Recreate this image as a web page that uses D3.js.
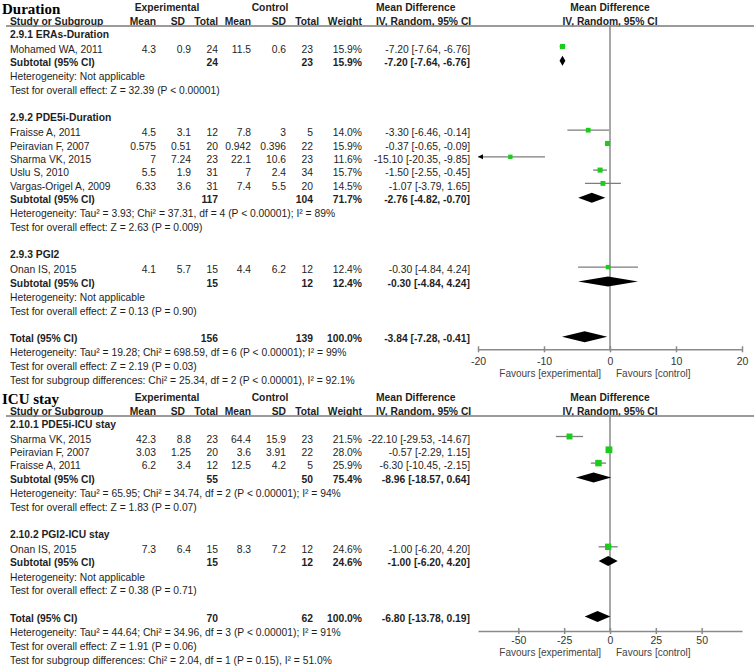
<!DOCTYPE html>
<html>
<head>
<meta charset="utf-8">
<script src="https://cdn.jsdelivr.net/npm/d3@7"></script>
<style>
  body { margin: 0; background: #fff; }
</style>
</head>
<body>
<svg id="chart" width="754" height="667"></svg>
<script>
// --- Données : Duration ---
const durationGroups = [
  { id: "2.9.1", label: "2.9.1 ERAs-Duration", nE: 24, nC: 23, weight: 15.9, md: -7.20, lo: -7.64, hi: -6.76,
    het: "Heterogeneity: Not applicable", test: "Test for overall effect: Z = 32.39 (P < 0.00001)" },
  { id: "2.9.2", label: "2.9.2 PDE5i-Duration", nE: 117, nC: 104, weight: 71.7, md: -2.76, lo: -4.82, hi: -0.70,
    het: "Heterogeneity: Tau² = 3.93; Chi² = 37.31, df = 4 (P < 0.00001); I² = 89%", test: "Test for overall effect: Z = 2.63 (P = 0.009)" },
  { id: "2.9.3", label: "2.9.3 PGI2", nE: 15, nC: 12, weight: 12.4, md: -0.30, lo: -4.84, hi: 4.24,
    het: "Heterogeneity: Not applicable", test: "Test for overall effect: Z = 0.13 (P = 0.90)" }
];
const durationStudies = [
  { group: "2.9.1", name: "Mohamed WA, 2011", mE: 4.3, sdE: 0.9, nE: 24, mC: 11.5, sdC: 0.6, nC: 23, weight: 15.9, md: -7.20, lo: -7.64, hi: -6.76 },
  { group: "2.9.2", name: "Fraisse A, 2011", mE: 4.5, sdE: 3.1, nE: 12, mC: 7.8, sdC: 3, nC: 5, weight: 14.0, md: -3.30, lo: -6.46, hi: -0.14 },
  { group: "2.9.2", name: "Peiravian F, 2007", mE: 0.575, sdE: 0.51, nE: 20, mC: 0.942, sdC: 0.396, nC: 22, weight: 15.9, md: -0.37, lo: -0.65, hi: -0.09 },
  { group: "2.9.2", name: "Sharma VK, 2015", mE: 7, sdE: 7.24, nE: 23, mC: 22.1, sdC: 10.6, nC: 23, weight: 11.6, md: -15.10, lo: -20.35, hi: -9.85 },
  { group: "2.9.2", name: "Uslu S, 2010", mE: 5.5, sdE: 1.9, nE: 31, mC: 7, sdC: 2.4, nC: 34, weight: 15.7, md: -1.50, lo: -2.55, hi: -0.45 },
  { group: "2.9.2", name: "Vargas-Origel A, 2009", mE: 6.33, sdE: 3.6, nE: 31, mC: 7.4, sdC: 5.5, nC: 20, weight: 14.5, md: -1.07, lo: -3.79, hi: 1.65 },
  { group: "2.9.3", name: "Onan IS, 2015", mE: 4.1, sdE: 5.7, nE: 15, mC: 4.4, sdC: 6.2, nC: 12, weight: 12.4, md: -0.30, lo: -4.84, hi: 4.24 }
];
const durationTotal = { nE: 156, nC: 139, weight: 100, md: -3.84, lo: -7.28, hi: -0.41 };
const durationNotes = [
  "Heterogeneity: Tau² = 19.28; Chi² = 698.59, df = 6 (P < 0.00001); I² = 99%",
  "Test for overall effect: Z = 2.19 (P = 0.03)",
  "Test for subgroup differences: Chi² = 25.34, df = 2 (P < 0.00001), I² = 92.1%"
];
const durationTicks = [-20, -10, 0, 10, 20];
const durationDomain = [-20, 20];

// --- Données : ICU stay ---
const icuGroups = [
  { id: "2.10.1", label: "2.10.1 PDE5i-ICU stay", nE: 55, nC: 50, weight: 75.4, md: -8.96, lo: -18.57, hi: 0.64,
    het: "Heterogeneity: Tau² = 65.95; Chi² = 34.74, df = 2 (P < 0.00001); I² = 94%", test: "Test for overall effect: Z = 1.83 (P = 0.07)" },
  { id: "2.10.2", label: "2.10.2 PGI2-ICU stay", nE: 15, nC: 12, weight: 24.6, md: -1.00, lo: -6.20, hi: 4.20,
    het: "Heterogeneity: Not applicable", test: "Test for overall effect: Z = 0.38 (P = 0.71)" }
];
const icuStudies = [
  { group: "2.10.1", name: "Sharma VK, 2015", mE: 42.3, sdE: 8.8, nE: 23, mC: 64.4, sdC: 15.9, nC: 23, weight: 21.5, md: -22.10, lo: -29.53, hi: -14.67 },
  { group: "2.10.1", name: "Peiravian F, 2007", mE: 3.03, sdE: 1.25, nE: 20, mC: 3.6, sdC: 3.91, nC: 22, weight: 28.0, md: -0.57, lo: -2.29, hi: 1.15 },
  { group: "2.10.1", name: "Fraisse A, 2011", mE: 6.2, sdE: 3.4, nE: 12, mC: 12.5, sdC: 4.2, nC: 5, weight: 25.9, md: -6.30, lo: -10.45, hi: -2.15 },
  { group: "2.10.2", name: "Onan IS, 2015", mE: 7.3, sdE: 6.4, nE: 15, mC: 8.3, sdC: 7.2, nC: 12, weight: 24.6, md: -1.00, lo: -6.20, hi: 4.20 }
];
const icuTotal = { nE: 70, nC: 62, weight: 100, md: -6.80, lo: -13.78, hi: 0.19 };
const icuNotes = [
  "Heterogeneity: Tau² = 44.64; Chi² = 34.96, df = 3 (P < 0.00001); I² = 91%",
  "Test for overall effect: Z = 1.91 (P = 0.06)",
  "Test for subgroup differences: Chi² = 2.04, df = 1 (P = 0.15), I² = 51.0%"
];
const icuTicks = [-50, -25, 0, 25, 50];
const icuDomain = [-72, 72];

// --- Mise en page ---
const cols = { study: 10, mE: 156, sdE: 191, nE: 218, mC: 251, sdC: 286, nC: 313, weight: 362, md: 470 };
// en-têtes de colonnes (légèrement décalés comme dans RevMan)
const headCols = { mE: 156, sdE: 185, nE: 218, mC: 251, sdC: 286, nC: 319, weight: 362 };
const plotRange = [478, 742];
const sans = "'Liberation Sans', Arial, sans-serif";
const textColor = "#1e1e1e";
const lineColor = "#8a8a8a";
const green = "#1ccc1c";
const fs = 10.3;

const svg = d3.select("#chart");
const size = d3.scaleSqrt().domain([0, 30]).range([0, 7]);

drawPanel({ title: "Duration", top: 0, groups: durationGroups, studies: durationStudies, total: durationTotal,
  notes: durationNotes, ticks: durationTicks, domain: durationDomain, axisGap: 11, labelGap: 12, favGap: 24 });
drawPanel({ title: "ICU stay", top: 390, groups: icuGroups, studies: icuStudies, total: icuTotal,
  notes: icuNotes, ticks: icuTicks, domain: icuDomain, axisGap: 13, labelGap: 9, favGap: 21 });

function buildRows(p) {
  const rows = [];
  let y = 34;
  p.groups.forEach(g => {
    rows.push({ type: "group", y, g }); y += 15;
    p.studies.filter(s => s.group === g.id).forEach(s => { rows.push({ type: "study", y, s }); y += 13.3; });
    rows.push({ type: "subtotal", y, g }); y += 14.5;
    rows.push({ type: "note", y, text: g.het }); y += 13.7;
    rows.push({ type: "note", y, text: g.test }); y += 13.7;
    y += 13.5;
  });
  rows.push({ type: "total", y, g: p.total }); y += 14.5;
  p.notes.forEach(t => { rows.push({ type: "note", y, text: t }); y += 13.7; });
  return rows;
}

function txt(g, x, y, s, opt = {}) {
  return g.append("text")
    .attr("x", x).attr("y", y).attr("dy", "0.35em")
    .attr("text-anchor", opt.anchor || "end")
    .style("font-family", sans)
    .attr("font-size", opt.size || fs)
    .attr("font-weight", opt.bold ? "bold" : "normal")
    .attr("fill", opt.fill || textColor)
    .text(s);
}

function ciText(d) {
  return `${d.md.toFixed(2)} [${d.lo.toFixed(2)}, ${d.hi.toFixed(2)}]`;
}

function diamond(g, x, y, d, h) {
  const pts = [[x(d.lo), y], [x(d.md), y - h / 2], [x(d.hi), y], [x(d.md), y + h / 2]];
  g.append("path").attr("d", "M" + pts.join("L") + "Z").attr("fill", "#000");
}

function drawPanel(p) {
  const g = svg.append("g").attr("transform", `translate(0,${p.top})`);
  const x = d3.scaleLinear().domain(p.domain).range(plotRange);
  const rows = buildRows(p);
  const totalY = rows.find(r => r.type === "total").y;
  const axisY = totalY + p.axisGap;

  // En-têtes
  g.append("text").attr("x", 2).attr("y", 13.5)
    .style("font-family", "'Liberation Serif', 'Times New Roman', serif")
    .attr("font-size", 15).attr("font-weight", "bold").attr("fill", "#000").text(p.title);
  txt(g, 167, 7, "Experimental", { anchor: "middle", bold: true });
  txt(g, 270, 7, "Control", { anchor: "middle", bold: true });
  txt(g, 376, 7, "Mean Difference", { anchor: "start", bold: true });
  txt(g, x(0), 7, "Mean Difference", { anchor: "middle", bold: true });
  txt(g, cols.study, 21.5, "Study or Subgroup", { anchor: "start", bold: true });
  [["mE", "Mean"], ["sdE", "SD"], ["nE", "Total"], ["mC", "Mean"], ["sdC", "SD"], ["nC", "Total"], ["weight", "Weight"]]
    .forEach(([k, s]) => txt(g, headCols[k], 21.5, s, { bold: true }));
  txt(g, 376, 21.5, "IV, Random, 95% CI", { anchor: "start", bold: true });
  txt(g, x(0), 21.5, "IV, Random, 95% CI", { anchor: "middle", bold: true });
  g.append("line").attr("x1", 6).attr("x2", 754).attr("y1", 26).attr("y2", 26)
    .attr("stroke", "#7a7a7a").attr("stroke-width", 1.5);

  // Ligne zéro
  g.append("line").attr("x1", x(0)).attr("x2", x(0)).attr("y1", 26).attr("y2", axisY)
    .attr("stroke", lineColor).attr("stroke-width", 1.5);

  rows.forEach(r => {
    if (r.type === "group") {
      txt(g, cols.study, r.y, r.g.label, { anchor: "start", bold: true });
    } else if (r.type === "note") {
      txt(g, cols.study, r.y, r.text, { anchor: "start" });
    } else if (r.type === "study") {
      const s = r.s;
      txt(g, cols.study, r.y, s.name, { anchor: "start" });
      ["mE", "sdE", "nE", "mC", "sdC", "nC"].forEach(k => txt(g, cols[k], r.y, String(s[k])));
      txt(g, cols.weight, r.y, s.weight.toFixed(1) + "%");
      txt(g, cols.md, r.y, ciText(s));
      const my = r.y - 2.5;
      const x0 = x(Math.max(s.lo, p.domain[0])), x1 = x(Math.min(s.hi, p.domain[1]));
      g.append("line").attr("x1", x0).attr("x2", x1).attr("y1", my).attr("y2", my)
        .attr("stroke", "#7d7d7d").attr("stroke-width", 1.3);
      if (s.lo < p.domain[0]) {
        g.append("path").attr("d", `M${x0},${my}L${x0 + 5},${my - 2.5}L${x0 + 5},${my + 2.5}Z`).attr("fill", "#000");
      }
      const w = size(s.weight);
      g.append("rect").attr("x", x(s.md) - w / 2).attr("y", my - w / 2)
        .attr("width", w).attr("height", w).attr("fill", green);
    } else {
      const d = r.g;
      const label = r.type === "total" ? "Total (95% CI)" : "Subtotal (95% CI)";
      txt(g, cols.study, r.y, label, { anchor: "start", bold: true });
      txt(g, cols.nE, r.y, d.nE, { bold: true });
      txt(g, cols.nC, r.y, d.nC, { bold: true });
      txt(g, cols.weight, r.y, d.weight.toFixed(1) + "%", { bold: true });
      txt(g, cols.md, r.y, ciText(d), { bold: true });
      diamond(g, x, r.y - 1.5, d, r.type === "total" ? 11 : 10);
    }
  });

  // Axe
  const pad = p.labelGap - 6.5;
  const axis = d3.axisBottom(x).tickValues(p.ticks).tickFormat(d => String(d))
    .tickSizeInner(3).tickSizeOuter(0).tickPadding(pad);
  const ax = g.append("g").attr("transform", `translate(0,${axisY})`).call(axis)
    .attr("font-family", sans).attr("font-size", 10.5);
  ax.select(".domain").attr("stroke", lineColor).attr("stroke-width", 1.5);
  ax.selectAll(".tick line").attr("y1", -3).attr("y2", 3).attr("stroke", lineColor).attr("stroke-width", 1.5);
  ax.selectAll(".tick text").attr("fill", "#333");

  txt(g, x(0) - 9, axisY + p.favGap, "Favours [experimental]", { fill: "#444", size: 10 });
  txt(g, x(0) + 6, axisY + p.favGap, "Favours [control]", { anchor: "start", fill: "#444", size: 10 });
}
</script>
</body>
</html>
